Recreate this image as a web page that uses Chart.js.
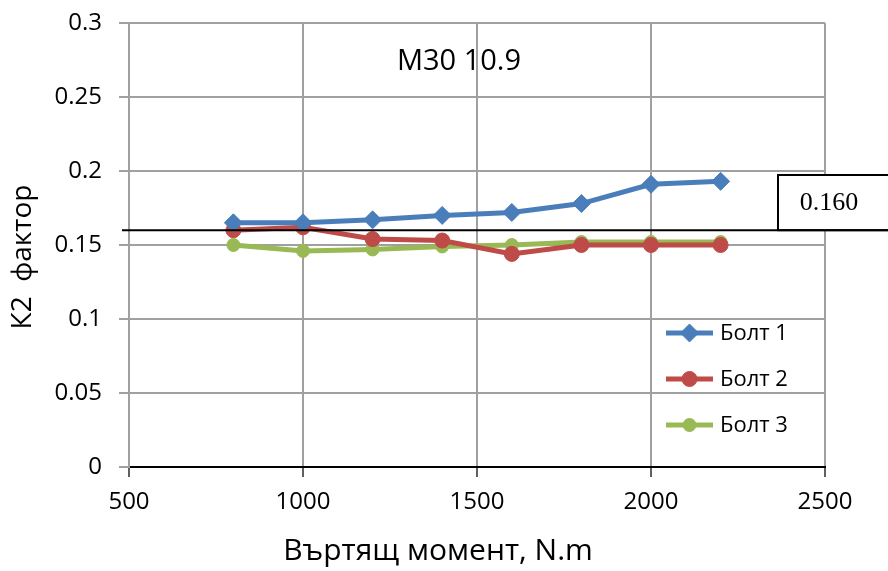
<!DOCTYPE html>
<html>
<head>
<meta charset="utf-8">
<script src="https://cdn.jsdelivr.net/npm/chart.js@4/dist/chart.umd.min.js"></script>
<style>
  html, body { margin: 0; padding: 0; background: #ffffff; }
  #wrap { width: 888px; height: 571px; }
</style>
</head>
<body>
<div id="wrap"><canvas id="c" width="888" height="571"></canvas></div>
<script>
// Tightening torque (N.m) and measured K2 factor for each bolt
const torque = [800, 1000, 1200, 1400, 1600, 1800, 2000, 2200];
const bolt1 = [0.165, 0.165, 0.167, 0.170, 0.172, 0.178, 0.191, 0.193];
const bolt2 = [0.160, 0.162, 0.154, 0.153, 0.144, 0.150, 0.150, 0.150];
const bolt3 = [0.150, 0.146, 0.147, 0.149, 0.150, 0.152, 0.152, 0.152];
const seriesNames = ['Болт 1', 'Болт 2', 'Болт 3'];

const xTicks = [500, 1000, 1500, 2000, 2500];
const yTicks = [0, 0.05, 0.1, 0.15, 0.2, 0.25, 0.3];

const refValue = 0.160;
const refLabel = '0.160';

const chartTitle = 'M30 10.9';
const xTitle = 'Въртящ момент, N.m';
const yTitle = 'К2  фактор';

const FONT = '"Open Sans", "DejaVu Sans", sans-serif';

const toPoints = vals => torque.map((t, i) => ({ x: t, y: vals[i] }));

const styles = [
  { color: '#4A7EBB', pointStyle: 'rectRot', radius: 9 },
  { color: '#BE4B48', pointStyle: 'circle', radius: 7.5 },
  { color: '#98B954', pointStyle: 'circle', radius: 6.5 }
];

const datasets = [bolt1, bolt2, bolt3].map((vals, i) => ({
  label: seriesNames[i],
  data: toPoints(vals),
  borderColor: styles[i].color,
  backgroundColor: styles[i].color,
  pointBackgroundColor: styles[i].color,
  pointBorderColor: styles[i].color,
  pointBorderWidth: 1,
  pointStyle: styles[i].pointStyle,
  pointRadius: styles[i].radius,
  borderWidth: 5,
  tension: 0,
  fill: false
}));

// Chart title, axis titles, legend and the reference line with its value box
const decorations = {
  id: 'decorations',
  afterDatasetsDraw(chart) {
    const { ctx, chartArea: a, scales } = chart;
    const yRef = scales.y.getPixelForValue(refValue);

    ctx.save();
    // reference line and value box
    const boxLeft = a.right - 47;
    const boxTop = a.top + 152;
    ctx.fillStyle = '#ffffff';
    ctx.fillRect(boxLeft, boxTop, 120, yRef - boxTop);
    ctx.strokeStyle = '#000000';
    ctx.lineWidth = 2;
    ctx.strokeRect(boxLeft, boxTop, 120, yRef - boxTop);
    ctx.beginPath();
    ctx.moveTo(a.left - 7, yRef);
    ctx.lineTo(chart.width, yRef);
    ctx.stroke();
    ctx.fillStyle = '#000000';
    ctx.font = '26px "Liberation Serif", "DejaVu Serif", serif';
    ctx.textAlign = 'center';
    ctx.textBaseline = 'middle';
    ctx.fillText(refLabel, boxLeft + 51, (boxTop + yRef) / 2 + 1);

    // chart title inside the plot
    ctx.font = '29px ' + FONT;
    ctx.fillText(chartTitle, a.left + 330, a.top + 39);

    // axis titles
    ctx.font = '30px ' + FONT;
    ctx.fillText(xTitle, a.left + 309, 551);
    ctx.font = '28px ' + FONT;
    ctx.save();
    ctx.translate(23, a.top + 234);
    ctx.rotate(-Math.PI / 2);
    ctx.fillText(yTitle, 0, 0);
    ctx.restore();

    // legend
    const rows = [a.top + 310, a.top + 356, a.top + 402];
    ctx.font = '22px ' + FONT;
    ctx.textAlign = 'left';
    chart.data.datasets.forEach((ds, i) => {
      const y = rows[i];
      const x0 = a.left + 537, x1 = a.left + 584;
      ctx.strokeStyle = ds.borderColor;
      ctx.lineWidth = 5;
      ctx.beginPath();
      ctx.moveTo(x0, y);
      ctx.lineTo(x1, y);
      ctx.stroke();
      ctx.fillStyle = ds.pointBackgroundColor;
      ctx.strokeStyle = ds.pointBorderColor;
      ctx.lineWidth = 1;
      Chart.helpers.drawPoint(ctx, {
        pointStyle: ds.pointStyle,
        radius: ds.pointRadius,
        borderWidth: 1,
        rotation: 0
      }, (x0 + x1) / 2, y);
      ctx.fillStyle = '#000000';
      ctx.fillText(ds.label, x1 + 7, y + 1);
    });
    ctx.restore();
  }
};

new Chart(document.getElementById('c'), {
  type: 'line',
  data: { datasets },
  plugins: [decorations],
  options: {
    responsive: false,
    animation: false,
    layout: { padding: { top: 23, right: 63, bottom: 0, left: 0 } },
    plugins: {
      legend: { display: false },
      tooltip: { enabled: false },
      title: { display: false }
    },
    scales: {
      x: {
        type: 'linear',
        min: xTicks[0],
        max: xTicks[xTicks.length - 1],
        afterBuildTicks: s => { s.ticks = xTicks.map(v => ({ value: v })); },
        afterFit: s => { s.height = 104; s.paddingLeft = 0; s.paddingRight = 0; },
        ticks: {
          callback: v => String(v),
          color: '#000000',
          font: { family: FONT, size: 24 },
          padding: 11,
          maxRotation: 0
        },
        grid: { color: '#a0a0a0', lineWidth: 2, tickLength: 10, tickColor: '#606060' },
        border: { color: '#000000', width: 2 }
      },
      y: {
        min: yTicks[0],
        max: yTicks[yTicks.length - 1],
        afterBuildTicks: s => { s.ticks = yTicks.map(v => ({ value: v })); },
        afterFit: s => { s.width = 129; s.paddingTop = 0; s.paddingBottom = 0; },
        ticks: {
          callback: v => String(Number(v.toFixed(2))),
          color: '#000000',
          font: { family: FONT, size: 24 },
          padding: 17
        },
        grid: { color: '#a0a0a0', lineWidth: 2, tickLength: 10, tickColor: '#a0a0a0' },
        border: { color: '#a0a0a0', width: 2 }
      }
    }
  }
});
</script>
</body>
</html>
